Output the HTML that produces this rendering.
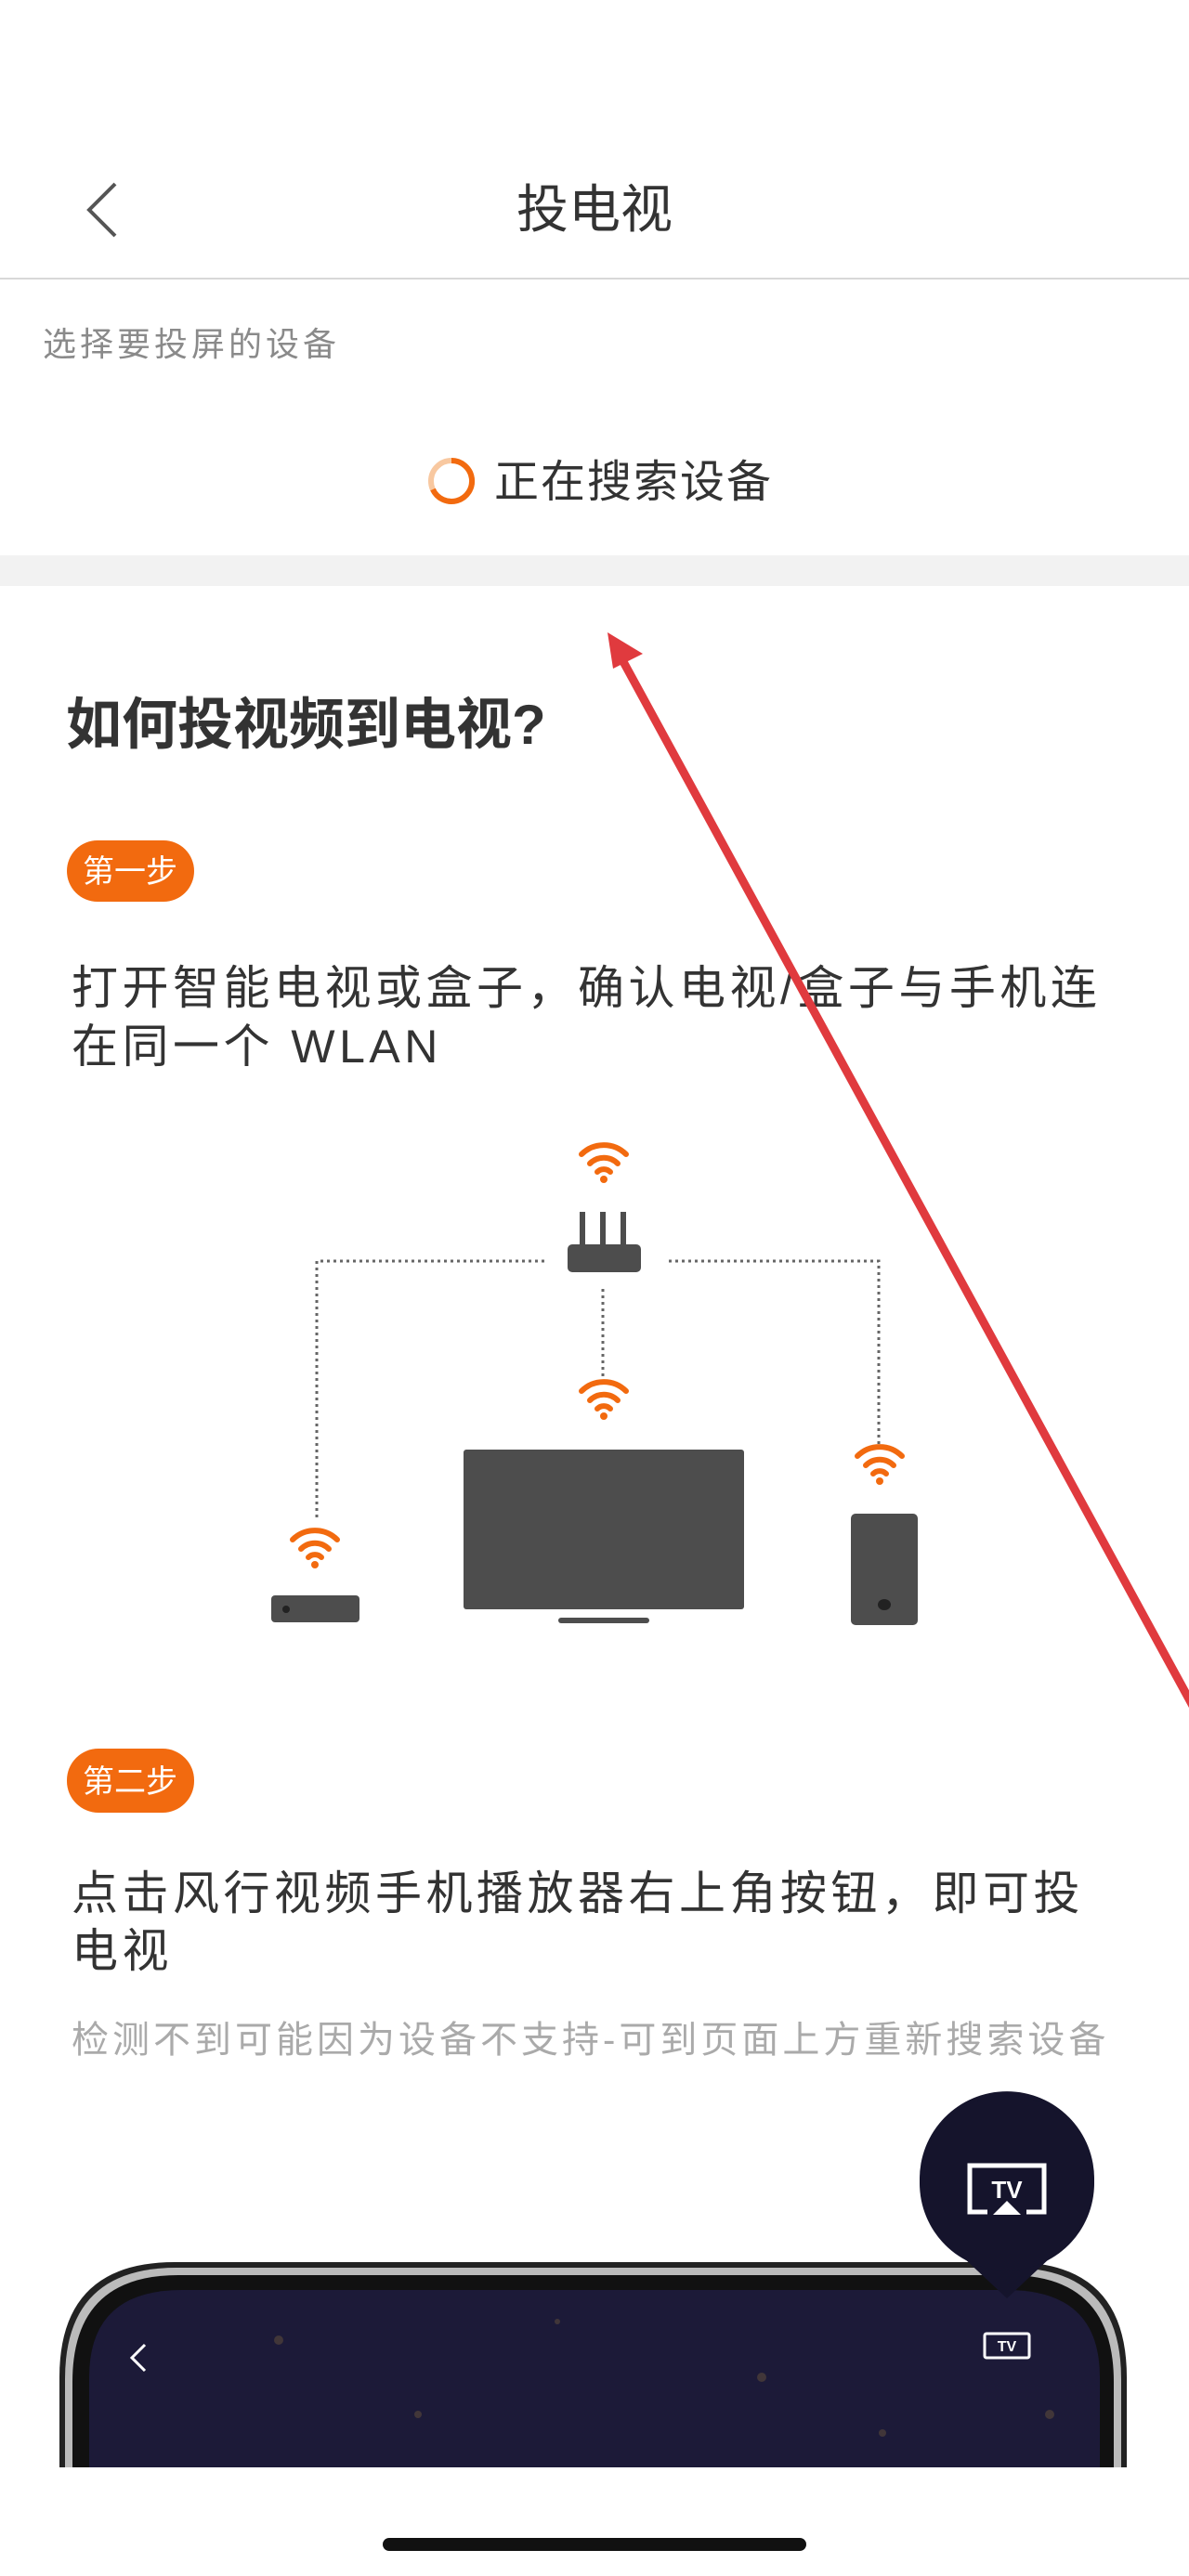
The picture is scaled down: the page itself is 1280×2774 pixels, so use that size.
<!DOCTYPE html>
<html><head><meta charset="utf-8"><style>
html,body{margin:0;padding:0;background:#fff;}
svg{display:block;}
text{font-family:"Liberation Sans","Noto Sans CJK SC",sans-serif;}
</style></head><body>
<svg width="1280" height="2774" viewBox="0 0 1280 2774" xmlns="http://www.w3.org/2000/svg">
<defs>
<g id="wifi">
<path d="M-24,-14 A34,34 0 0 1 24,-14" fill="none" stroke="#f26a0f" stroke-width="6" stroke-linecap="round"/>
<path d="M-15,-4 A21,21 0 0 1 15,-4" fill="none" stroke="#f26a0f" stroke-width="6" stroke-linecap="round"/>
<path d="M-7,5 A10,10 0 0 1 7,5" fill="none" stroke="#f26a0f" stroke-width="6" stroke-linecap="round"/>
<circle cx="0" cy="13" r="4" fill="#f26a0f"/>
</g>
</defs>
<rect width="1280" height="2774" fill="#fff"/>
<!-- header -->
<path d="M124,198 L96,226 L124,254" fill="none" stroke="#555" stroke-width="4"/>
<text x="640" y="245" font-size="56" fill="#333" text-anchor="middle">投电视</text>
<rect x="0" y="299" width="1280" height="2" fill="#d8d8d8"/>
<text x="46" y="383" font-size="36" fill="#8a8a8a" letter-spacing="4">选择要投屏的设备</text>
<circle cx="486" cy="518" r="22" fill="none" stroke="#f8c8a0" stroke-width="6"/>
<path d="M486,496 A22,22 0 1 1 466,527" fill="none" stroke="#f26a0f" stroke-width="6"/>
<text x="532" y="535" font-size="48" fill="#333" letter-spacing="2">正在搜索设备</text>
<rect x="0" y="598" width="1280" height="33" fill="#f2f2f2"/>
<!-- heading -->
<text x="71" y="801" font-size="60" font-weight="bold" fill="#333">如何投视频到电视?</text>
<rect x="72" y="905" width="137" height="66" rx="33" fill="#f26a0f"/>
<text x="140" y="950" font-size="34" fill="#fff" text-anchor="middle">第一步</text>
<text x="77" y="1081" font-size="50" fill="#333" letter-spacing="4.5">打开智能电视或盒子，确认电视/盒子与手机连</text>
<text x="77" y="1144" font-size="50" fill="#333" letter-spacing="4.5">在同一个 WLAN</text>
<!-- diagram -->
<use href="#wifi" x="650" y="1257"/>
<rect x="624" y="1305" width="6" height="37" fill="#4d4d4d"/>
<rect x="646" y="1305" width="6" height="37" fill="#4d4d4d"/>
<rect x="668" y="1305" width="6" height="37" fill="#4d4d4d"/>
<rect x="611" y="1340" width="79" height="30" rx="5" fill="#4d4d4d"/>
<g stroke="#666" stroke-width="3" stroke-dasharray="3 4" fill="none">
<path d="M586,1358 H341 V1635"/>
<path d="M720,1358 H946 V1556"/>
<path d="M649,1388 V1485"/>
</g>
<use href="#wifi" x="650" y="1512"/>
<rect x="499" y="1561" width="302" height="172" rx="3" fill="#4d4d4d"/>
<rect x="601" y="1742" width="98" height="6" rx="3" fill="#4d4d4d"/>
<use href="#wifi" x="947" y="1582"/>
<rect x="916" y="1630" width="72" height="120" rx="5" fill="#4d4d4d"/>
<ellipse cx="952" cy="1728" rx="7" ry="6" fill="#222"/>
<use href="#wifi" x="339" y="1672"/>
<rect x="292" y="1718" width="95" height="29" rx="4" fill="#4d4d4d"/>
<circle cx="308" cy="1733" r="4" fill="#222"/>
<!-- step 2 -->
<rect x="72" y="1883" width="137" height="69" rx="34" fill="#f26a0f"/>
<text x="140" y="1930" font-size="34" fill="#fff" text-anchor="middle">第二步</text>
<text x="77" y="2056" font-size="50" fill="#333" letter-spacing="4.5">点击风行视频手机播放器右上角按钮，即可投</text>
<text x="77" y="2118" font-size="50" fill="#333" letter-spacing="4.5">电视</text>
<text x="77" y="2210" font-size="40" fill="#aaa" letter-spacing="4">检测不到可能因为设备不支持-可到页面上方重新搜索设备</text>
<!-- phone -->
<path d="M64,2657 V2560 Q64,2436 188,2436 H1090 Q1213,2436 1213,2560 V2657 Z" fill="#222"/>
<path d="M70,2657 V2562 Q70,2442 190,2442 H1088 Q1207,2442 1207,2562 V2657 Z" fill="#bbb"/>
<path d="M78,2657 V2565 Q78,2450 192,2450 H1086 Q1199,2450 1199,2565 V2657 Z" fill="#111"/>
<path d="M96,2657 V2560 Q96,2466 196,2466 H1084 Q1184,2466 1184,2560 V2657 Z" fill="#1c1a38"/>
<g fill="#5a4a3a" opacity="0.6">
<circle cx="300" cy="2520" r="5"/><circle cx="450" cy="2600" r="4"/><circle cx="820" cy="2560" r="5"/><circle cx="950" cy="2620" r="4"/><circle cx="600" cy="2500" r="3"/><circle cx="1130" cy="2600" r="5"/>
</g>
<path d="M156,2525 L142,2539 L156,2553" fill="none" stroke="#fff" stroke-width="3"/>
<rect x="1060" y="2513" width="48" height="26" rx="2" fill="none" stroke="#fff" stroke-width="3"/>
<text x="1084" y="2532" font-size="16" font-weight="bold" fill="#fff" text-anchor="middle">TV</text>
<!-- bubble -->
<path d="M1084,2475 L1020,2415 A94,94 0 1 1 1148,2415 Z" fill="#15142c"/>
<circle cx="1084" cy="2351" r="94" fill="#15142c"/>
<path d="M1063,2382 H1044 V2332 H1124 V2382 H1105" fill="none" stroke="#fff" stroke-width="5"/>
<path d="M1084,2370 L1069,2385 H1099 Z" fill="#fff"/>
<text x="1084" y="2367" font-size="26" font-weight="bold" fill="#fff" text-anchor="middle">TV</text>
<!-- home indicator -->
<rect x="412" y="2733" width="456" height="14" rx="7" fill="#111"/>
<!-- red arrow -->
<line x1="1290" y1="1848" x2="668" y2="707" stroke="#e03a3e" stroke-width="9"/>
<path d="M654,681 L692,704 L660,720 Z" fill="#e03a3e"/>
</svg>
</body></html>
